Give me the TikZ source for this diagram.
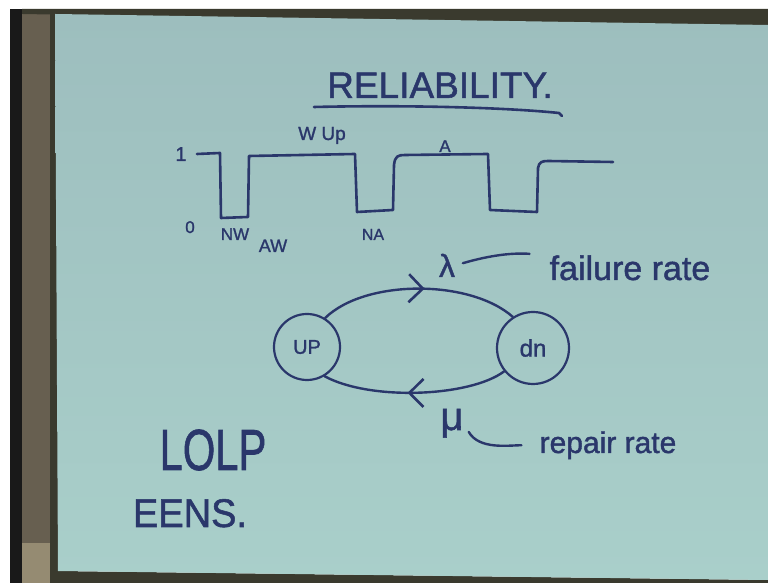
\documentclass[tikz,border=0pt]{standalone}
\usepackage{fontspec}
\usepackage{graphicx}
\setmainfont{Liberation Sans}[FakeBold=1.3]
\usetikzlibrary{arrows.meta,decorations.markings}

\definecolor{ink}{HTML}{2A376B}
\definecolor{paper}{HTML}{A9CFCA}
\definecolor{paperdark}{HTML}{9DBEBE}
\definecolor{frame}{HTML}{675F50}
\definecolor{frameedge}{HTML}{3A3A2E}
\definecolor{framelow}{HTML}{958B72}

\begin{document}
\begin{tikzpicture}
    [
        x=1pt, y=1pt,
        hand/.style={text=ink, inner sep=0pt},
        small/.style={hand, anchor=base, font=\fontsize{18}{20}\selectfont},
        wave/.style={draw=ink, line width=2.6pt, line join=round, line cap=round},
        state/.style={circle, draw=ink, line width=2.2pt, minimum size=66pt,
            inner sep=0pt, text=ink, font=\fontsize{20}{22}\selectfont},
        edge/.style={draw=ink, line width=2.4pt, line cap=round},
        mid arrow/.style={postaction={decorate, decoration={markings,
            mark=at position #1 with {\arrow{Straight Barb[length=14pt, width=28pt, line width=2.6pt]}}}}},
        tie/.style={draw=ink, line width=2.4pt, line cap=round},
    ]
    \useasboundingbox (0,0) rectangle (768,583);

    % board and frame
    \fill [white] (0,0) rectangle (768,583);
    \fill [black!90] (10,0) rectangle (22,574);
    \fill [frame] (22,0) rectangle (55,574);
    \fill [framelow] (22,0) rectangle (50,40);
    \fill [frameedge] (50,0) rectangle (58,574);
    \fill [frameedge] (22,574) -- (768,574) -- (768,556) -- (22,569) -- cycle;
    \fill [frameedge] (55,0) -- (768,0) -- (768,3) -- (58,12) -- cycle;
    \shade [top color=paperdark, bottom color=paper]
        (55,569) -- (768,558) -- (768,3) -- (58,12) -- cycle;

    % heading
    \node (title) at (440,485) [hand, anchor=base, font=\fontsize{37}{40}\selectfont] {RELIABILITY.};
    \draw [wave] (314,476) .. controls (400,478) and (500,476) .. (559,470) -- (562,467);

    % up / down time signal
    \draw [wave] (197,429) -- (220,430) -- (221,365) -- (248,366) -- (249,427)
        -- (355,429) -- (357,371) -- (393,373) -- (394,418)
        .. controls (395,427) and (398,428) .. (405,428) -- (488,429)
        -- (490,373) -- (537,371) -- (538,415)
        .. controls (539,421) and (542,422) .. (548,422) -- (613,421);

    \node (one)  at (181,422) [small, font=\fontsize{20}{22}\selectfont] {1};
    \node (zero) at (190,350) [small, font=\fontsize{17}{19}\selectfont] {0};
    \node (nw)   at (235,343) [small, font=\fontsize{17}{19}\selectfont] {NW};
    \node (aw)   at (273,331) [small] {AW};
    \node (wup)  at (322,443) [small, font=\fontsize{19}{21}\selectfont] {W Up};
    \node (na)   at (373,343) [small, font=\fontsize{16}{18}\selectfont] {NA};
    \node (avl)  at (445,431) [small, font=\fontsize{17}{19}\selectfont] {A};

    % two state model
    \node (up) at (307,236) [state] {UP};
    \node (dn) at (533,235) [state, minimum size=72pt, font=\fontsize{24}{26}\selectfont] {dn};
    \draw [edge, mid arrow=0.53] (up.58) .. controls (365,304) and (470,304) .. (dn.123);
    \draw [edge, mid arrow=0.54] (dn.219) .. controls (470,186) and (370,182) .. (up.301);

    \node (lam)  at (447,306) [hand, anchor=base, font=\fontsize{32}{34}\selectfont] {λ};
    \node (fail) at (630,303) [hand, anchor=base, font=\fontsize{34}{36}\selectfont] {failure rate};
    \draw [tie, shorten <=8pt, shorten >=20pt] (lam.east) to[bend left=10] (fail.north west);

    \node (mu)  at (452,153) [hand, anchor=base, font=\fontsize{40}{42}\selectfont] {μ};
    \node (rep) at (608,130) [hand, anchor=base, font=\fontsize{30}{32}\selectfont] {repair rate};
    \draw [tie, shorten <=10pt, shorten >=18pt] (mu.east) to[out=-60, in=180] (rep.west);

    % indices
    \node (lolp) at (213,113) [hand, anchor=base, font=\fontsize{58}{60}\selectfont] {\scalebox{0.72}[1]{LOLP}};
    \node (eens) at (190,56)  [hand, anchor=base, font=\fontsize{40}{42}\selectfont] {\scalebox{0.95}[1]{EENS.}};
\end{tikzpicture}
\end{document}
